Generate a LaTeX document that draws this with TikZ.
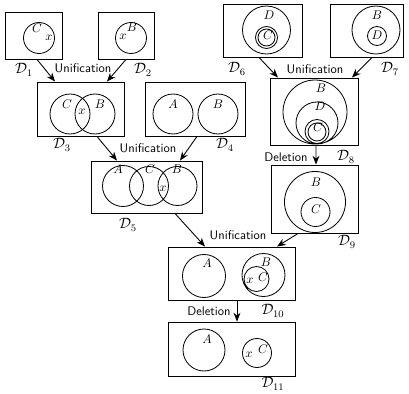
\documentclass[tikz,border=0pt]{standalone}
\usetikzlibrary{arrows.meta}
\newcommand\pxu{0.8pt}

\begin{document}
\begin{tikzpicture}[x=0.8pt, y=-0.8pt,
    dbox/.style={draw, line width=0.75pt, inner sep=0pt},
    ring/.style={line width=0.65pt},
    lbl/.style={inner sep=0pt},
    nom/.style={inner sep=0pt, font=\large},
    op/.style={font=\sffamily, inner sep=1pt},
    flecha/.style={-{Stealth[length=7pt,width=5.5pt]}, line width=0.7pt}]
    \useasboundingbox (0,0) rectangle (409,394);

    % Cajas de los diagramas
    \node[dbox, minimum width=57*\pxu, minimum height=47*\pxu] (d1) at (33.5,35.5) {};
    \node[dbox, minimum width=56*\pxu, minimum height=47*\pxu] (d2) at (126,35.5) {};
    \node[dbox, minimum width=87*\pxu, minimum height=54*\pxu] (d3) at (80.5,109) {};
    \node[dbox, minimum width=100*\pxu, minimum height=54*\pxu] (d4) at (195,109) {};
    \node[dbox, minimum width=111*\pxu, minimum height=52*\pxu] (d5) at (146.5,187) {};
    \node[dbox, minimum width=79*\pxu, minimum height=53*\pxu] (d6) at (262.5,30.5) {};
    \node[dbox, minimum width=73*\pxu, minimum height=53*\pxu] (d7) at (366.5,30.5) {};
    \node[dbox, minimum width=88*\pxu, minimum height=67*\pxu] (d8) at (314,111.5) {};
    \node[dbox, minimum width=87*\pxu, minimum height=68*\pxu] (d9) at (314.5,199) {};
    \node[dbox, minimum width=127*\pxu, minimum height=53*\pxu] (d10) at (231.5,273.5) {};
    \node[dbox, minimum width=127*\pxu, minimum height=54*\pxu] (d11) at (231.5,349) {};

    % Curvas (circulos) de cada diagrama
    \draw[ring] (39,38) circle[radius=15.5];
    \draw[ring] (131,38) circle[radius=15.5];
    \draw[ring] (70,114) circle[radius=20] (95,114) circle[radius=20];
    \draw[ring] (173,114) circle[radius=20] (218,114) circle[radius=20];
    \draw[ring] (123,186) circle[radius=20.5] (149,186) circle[radius=19.5]
        (177.5,186) circle[radius=19.5];
    \draw[ring] (266.5,30) circle[radius=24] (266.5,37.5) circle[radius=11]
        (266.5,37.5) circle[radius=8.5];
    \draw[ring] (376,30) circle[radius=24] (377,36) circle[radius=9.5];
    \draw[ring] (315,112) circle[radius=32] (317,123) circle[radius=21]
        (317,131.5) circle[radius=12] (317,132) circle[radius=9];
    \draw[ring] (315,202) circle[radius=30.5] (315.5,212) circle[radius=14.5];
    \draw[ring] (204,276) circle[radius=21.5] (263.5,275) circle[radius=21.5]
        (256.5,279) circle[radius=12.5];
    \draw[ring] (204,350) circle[radius=21] (257,353) circle[radius=14.5];

    % Letras dentro de los circulos
    \node[lbl] (c1) at (37,28) {$C$};
    \node[lbl] (x1) at (49,38) {$x$};
    \node[lbl] (b2) at (132,27) {$B$};
    \node[lbl] (x2) at (123,37) {$x$};
    \node[lbl] (c3) at (67,104) {$C$};
    \node[lbl] (b3) at (100,104) {$B$};
    \node[lbl] (x3) at (82,112) {$x$};
    \node[lbl] (a4) at (173,104) {$A$};
    \node[lbl] (b4) at (218,104) {$B$};
    \node[lbl] (a5) at (118,169) {$A$};
    \node[lbl] (c5) at (150,169) {$C$};
    \node[lbl] (b5) at (177,169) {$B$};
    \node[lbl] (x5) at (163,189) {$x$};
    \node[lbl] (dd6) at (269,15) {$D$};
    \node[lbl] (c6) at (268,35) {$C$};
    \node[lbl] (b7) at (377,15) {$B$};
    \node[lbl] (dd7) at (377,35) {$D$};
    \node[lbl] (b8) at (321,88) {$B$};
    \node[lbl] (dd8) at (320,106) {$D$};
    \node[lbl] (c8) at (318,127) {$C$};
    \node[lbl] (b9) at (316,182) {$B$};
    \node[lbl] (c9) at (316,209) {$C$};
    \node[lbl] (a10) at (207,263) {$A$};
    \node[lbl] (b10) at (266,262) {$B$};
    \node[lbl] (x10) at (250,281) {$x$};
    \node[lbl] (c10) at (263,277) {$C$};
    \node[lbl] (a11) at (207,339) {$A$};
    \node[lbl] (x11) at (249,355) {$x$};
    \node[lbl] (c11) at (263,349) {$C$};

    % Nombres de los diagramas
    \node[nom] (n1) at (24,70) {$\mathcal{D}_1$};
    \node[nom] (n2) at (143,70) {$\mathcal{D}_2$};
    \node[nom] (n3) at (62,145) {$\mathcal{D}_3$};
    \node[nom] (n4) at (225,145) {$\mathcal{D}_4$};
    \node[nom] (n5) at (128,225) {$\mathcal{D}_5$};
    \node[nom] (n6) at (237,69) {$\mathcal{D}_6$};
    \node[nom] (n7) at (390,69) {$\mathcal{D}_7$};
    \node[nom] (n8) at (346,157) {$\mathcal{D}_8$};
    \node[nom] (n9) at (347,242) {$\mathcal{D}_9$};
    \node[nom] (n10) at (273,311) {$\mathcal{D}_{10}$};
    \node[nom] (n11) at (273,384) {$\mathcal{D}_{11}$};

    % Operaciones
    \node[op] (u1) at (83,68) {Unification};
    \node[op] (u2) at (148,148) {Unification};
    \node[op] (u3) at (315,69) {Unification};
    \node[op] (u4) at (238,235) {Unification};
    \node[op] (e1) at (286,157) {Deletion};
    \node[op] (e2) at (209,311) {Deletion};

    % Flechas entre diagramas
    \draw[flecha] ([xshift=3.5*\pxu]d1.south) -- ([xshift=-25.5*\pxu]d3.north);
    \draw[flecha] (d2.south) -- ([xshift=26.5*\pxu]d3.north);
    \draw[flecha] ([xshift=16.5*\pxu]d3.south) -- ([xshift=-29.5*\pxu]d5.north);
    \draw[flecha] ([xshift=2*\pxu]d4.south) -- ([xshift=33.5*\pxu]d5.north);
    \draw[flecha] ([xshift=-3.5*\pxu]d6.south) -- ([xshift=-36*\pxu]d8.north);
    \draw[flecha] ([xshift=5.5*\pxu]d7.south) -- ([xshift=38*\pxu]d8.north);
    \draw[flecha] ([xshift=2*\pxu]d8.south) -- ([xshift=1.5*\pxu]d9.north);
    \draw[flecha] ([xshift=28.5*\pxu]d5.south) -- ([xshift=-26.5*\pxu]d10.north);
    \draw[flecha] ([xshift=-16.5*\pxu]d9.south) -- ([xshift=45.5*\pxu]d10.north);
    \draw[flecha] ([xshift=5.5*\pxu]d10.south) -- ([xshift=5.5*\pxu]d11.north);

\end{tikzpicture}
\end{document}
